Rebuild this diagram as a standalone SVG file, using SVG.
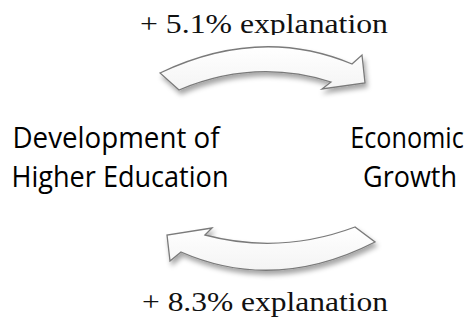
<svg xmlns="http://www.w3.org/2000/svg" width="475" height="331" viewBox="0 0 475 331">
  <style>
    .node-label { font-family: "Open Sans", "Noto Sans", "Liberation Sans", sans-serif; font-size: 30px; fill: #000; text-anchor: middle; }
    .edge-label { font-family: "Liberation Serif", "Times New Roman", serif; font-size: 28px; fill: #111; }
    .arrow { fill: url(#arrowFill); stroke: #7a7a7a; stroke-width: 1.3; stroke-linejoin: miter; filter: url(#softShadow); }
  </style>
  <defs>
    <linearGradient id="arrowFill" x1="0" y1="0" x2="0" y2="1">
      <stop offset="0" stop-color="#ffffff"/>
      <stop offset="1" stop-color="#f4f4f4"/>
    </linearGradient>
    <filter id="softShadow" x="-10%" y="-30%" width="125%" height="180%">
      <feDropShadow dx="2" dy="4" stdDeviation="2.5" flood-color="#000" flood-opacity="0.35"/>
    </filter>
    <clipPath id="topLabelClip">
      <rect x="0" y="0" width="475" height="35"/>
    </clipPath>
  </defs>

  <rect width="475" height="331" fill="#fff"/>

  <!-- curved block arrows and their labels -->
  <g id="connectors">
    <g id="edge-education-to-growth">
      <path class="arrow" d="M160,73 Q260,25.5 352,64 L362,55 L365,83 L322,89 L331,82 Q255,58 179,90 Z"/>
      <text class="edge-label" x="140" y="33" textLength="248" lengthAdjust="spacingAndGlyphs" clip-path="url(#topLabelClip)">+ 5.1% explanation</text>
    </g>
    <g id="edge-growth-to-education">
      <path class="arrow" d="M212,228 L167,235 L170,261 L181,252 Q275,293 375,242 L355,227 Q280,255 205,235 Z"/>
      <text class="edge-label" x="142" y="311" textLength="246" lengthAdjust="spacingAndGlyphs">+ 8.3% explanation</text>
    </g>
  </g>

  <g id="node-higher-education">
    <text class="node-label" x="116" y="148" textLength="207" lengthAdjust="spacingAndGlyphs">Development of</text>
    <text class="node-label" x="120" y="187" textLength="217" lengthAdjust="spacingAndGlyphs">Higher Education</text>
  </g>

  <g id="node-economic-growth">
    <!-- condensed horizontally so the word keeps clear of the right edge -->
    <text class="node-label" transform="translate(407,148) scale(0.84,1)">Economic</text>
    <text class="node-label" x="410" y="187" textLength="94" lengthAdjust="spacingAndGlyphs">Growth</text>
  </g>
</svg>
